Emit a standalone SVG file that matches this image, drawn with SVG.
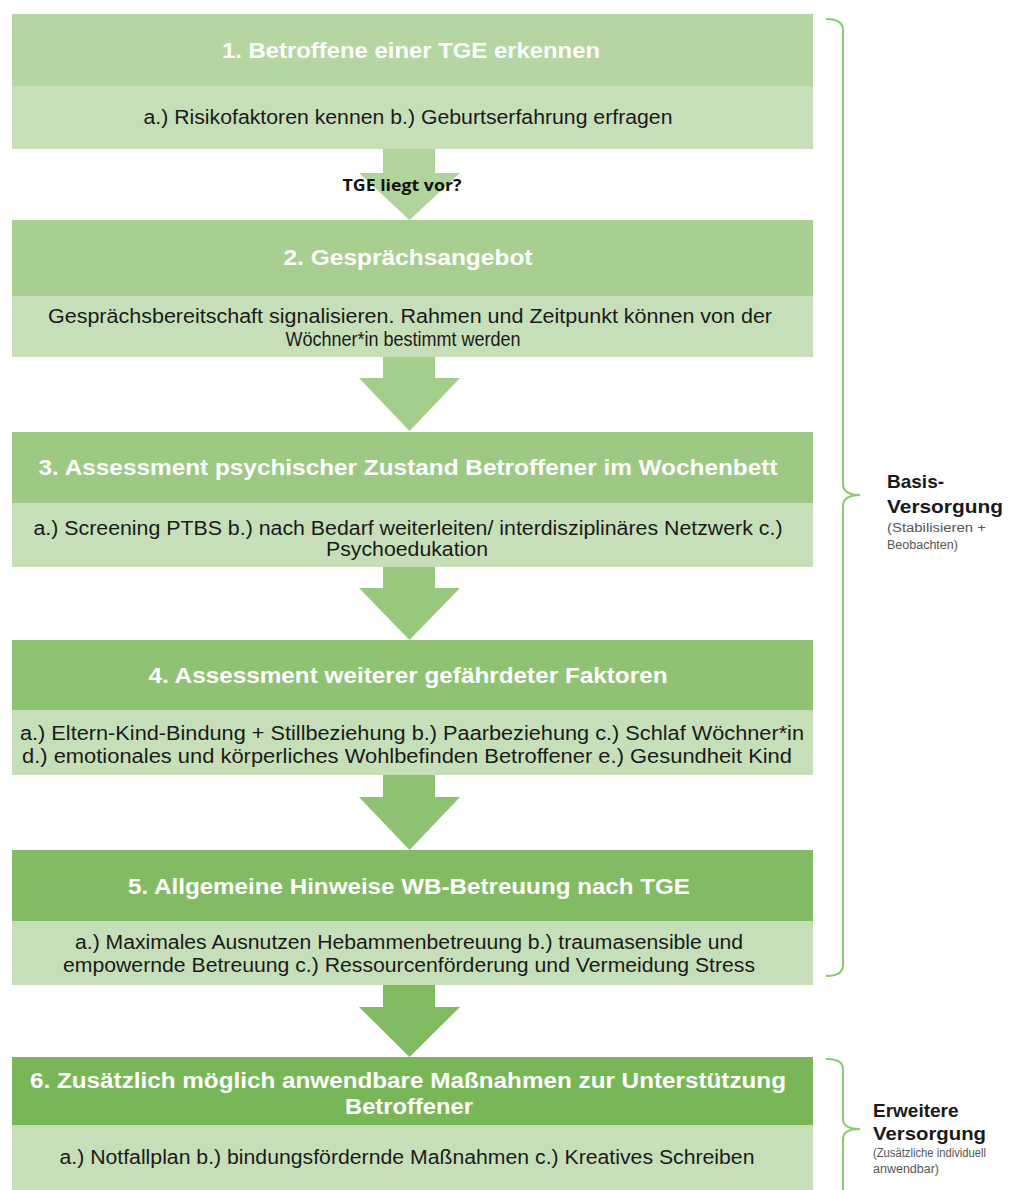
<svg xmlns="http://www.w3.org/2000/svg" width="1029" height="1190" viewBox="0 0 1029 1190">
<style>
.t{font-family:"Liberation Sans",Arial,sans-serif;font-weight:bold;font-size:22px;fill:#ffffff;text-anchor:middle}
.s{font-family:"Liberation Sans",Arial,sans-serif;font-size:19.5px;fill:#1a1a1a;text-anchor:middle}
.sub{fill:#c7dfb9}
.br{fill:none;stroke:#8cc870;stroke-width:2}
.lb{font-family:"Liberation Sans",Arial,sans-serif;font-weight:bold;font-size:19px;fill:#1a1a1a}
.ls{font-family:"Liberation Sans",Arial,sans-serif;font-size:12.5px;fill:#555555}
</style>
<rect width="1029" height="1190" fill="#ffffff"/>
<g id="connectors">
<path d="M383,149 H435 V173 H460 L409.5,220 L359,173 H383 Z" fill="#b0d49b"/>
<path d="M383,357 H435 V378 H460 L409.5,431 L359,378 H383 Z" fill="#a3cd8b"/>
<path d="M383,567 H435 V588 H460 L409.5,640 L359,588 H383 Z" fill="#98c77e"/>
<path d="M383,775 H435 V797 H460 L409.5,850 L359,797 H383 Z" fill="#8dc272"/>
<path d="M383,985 H435 V1007 H460 L409.5,1057 L359,1007 H383 Z" fill="#80bb62"/>
<text x="402" y="191" font-family="'Open Sans','Liberation Sans',sans-serif" font-weight="bold" font-size="16.5" fill="#111111" text-anchor="middle" textLength="119" lengthAdjust="spacingAndGlyphs">TGE liegt vor?</text>
</g>
<g id="node1">
<rect x="12" y="14" width="801" height="72" fill="#b5d5a2"/>
<rect class="sub" x="12" y="86" width="801" height="63"/>
<text class="t" x="411" y="58" textLength="378" lengthAdjust="spacingAndGlyphs">1. Betroffene einer TGE erkennen</text>
<text class="s" x="408" y="124" textLength="529" lengthAdjust="spacingAndGlyphs">a.) Risikofaktoren kennen b.) Geburtserfahrung erfragen</text>
</g>
<g id="node2">
<rect x="12" y="220" width="801" height="76" fill="#a9cf90"/>
<rect class="sub" x="12" y="296" width="801" height="61"/>
<text class="t" x="408" y="265" textLength="249" lengthAdjust="spacingAndGlyphs">2. Gesprächsangebot</text>
<text class="s" x="410" y="323" textLength="724" lengthAdjust="spacingAndGlyphs">Gesprächsbereitschaft signalisieren. Rahmen und Zeitpunkt können von der</text>
<text class="s" x="403" y="346" textLength="235" lengthAdjust="spacingAndGlyphs">Wöchner*in bestimmt werden</text>
</g>
<g id="node3">
<rect x="12" y="432" width="801" height="71" fill="#9dc984"/>
<rect class="sub" x="12" y="503" width="801" height="64"/>
<text class="t" x="408" y="475" textLength="739" lengthAdjust="spacingAndGlyphs">3. Assessment psychischer Zustand Betroffener im Wochenbett</text>
<text class="s" x="408" y="535" textLength="749" lengthAdjust="spacingAndGlyphs">a.) Screening PTBS b.) nach Bedarf weiterleiten/ interdisziplinäres Netzwerk c.)</text>
<text class="s" x="407" y="556" textLength="162" lengthAdjust="spacingAndGlyphs">Psychoedukation</text>
</g>
<g id="node4">
<rect x="12" y="640" width="801" height="70" fill="#90c273"/>
<rect class="sub" x="12" y="710" width="801" height="65"/>
<text class="t" x="408" y="683" textLength="519" lengthAdjust="spacingAndGlyphs">4. Assessment weiterer gefährdeter Faktoren</text>
<text class="s" x="412" y="740" textLength="784" lengthAdjust="spacingAndGlyphs">a.) Eltern-Kind-Bindung + Stillbeziehung b.) Paarbeziehung c.) Schlaf Wöchner*in</text>
<text class="s" x="407" y="763" textLength="770" lengthAdjust="spacingAndGlyphs">d.) emotionales und körperliches Wohlbefinden Betroffener e.) Gesundheit Kind</text>
</g>
<g id="node5">
<rect x="12" y="850" width="801" height="71" fill="#83bb64"/>
<rect class="sub" x="12" y="921" width="801" height="64"/>
<text class="t" x="409" y="894" textLength="562" lengthAdjust="spacingAndGlyphs">5. Allgemeine Hinweise WB-Betreuung nach TGE</text>
<text class="s" x="409" y="949" textLength="668" lengthAdjust="spacingAndGlyphs">a.) Maximales Ausnutzen Hebammenbetreuung b.) traumasensible und</text>
<text class="s" x="409" y="972" textLength="692" lengthAdjust="spacingAndGlyphs">empowernde Betreuung c.) Ressourcenförderung und Vermeidung Stress</text>
</g>
<g id="node6">
<rect x="12" y="1057" width="801" height="68" fill="#79b658"/>
<rect class="sub" x="12" y="1125" width="801" height="65"/>
<text class="t" x="408" y="1088" textLength="756" lengthAdjust="spacingAndGlyphs">6. Zusätzlich möglich anwendbare Maßnahmen zur Unterstützung</text>
<text class="t" x="409" y="1114" textLength="128" lengthAdjust="spacingAndGlyphs">Betroffener</text>
<text class="s" x="407" y="1164" textLength="695" lengthAdjust="spacingAndGlyphs">a.) Notfallplan b.) bindungsfördernde Maßnahmen c.) Kreatives Schreiben</text>
</g>
<g id="bracket-basis">
<path class="br" d="M826,19 Q843,19 843,30 L843,484 Q843,495 860,495 Q843,495 843,506 L843,965 Q843,976 826,976"/>
<text class="lb" x="887" y="488">Basis-</text>
<text class="lb" x="887" y="513" textLength="116" lengthAdjust="spacingAndGlyphs">Versorgung</text>
<text class="ls" x="887" y="532" textLength="99" lengthAdjust="spacingAndGlyphs">(Stabilisieren +</text>
<text class="ls" x="887" y="549">Beobachten)</text>
</g>
<g id="bracket-erweitert">
<path class="br" d="M826,1059 Q843,1059 843,1069 L843,1119 Q843,1129 860,1129 Q843,1129 843,1139 L843,1190"/>
<text class="lb" x="873" y="1117">Erweitere</text>
<text class="lb" x="873" y="1140" textLength="113" lengthAdjust="spacingAndGlyphs">Versorgung</text>
<text class="ls" x="873" y="1157" textLength="113" lengthAdjust="spacingAndGlyphs">(Zusätzliche individuell</text>
<text class="ls" x="873" y="1173">anwendbar)</text>
</g>
</svg>
